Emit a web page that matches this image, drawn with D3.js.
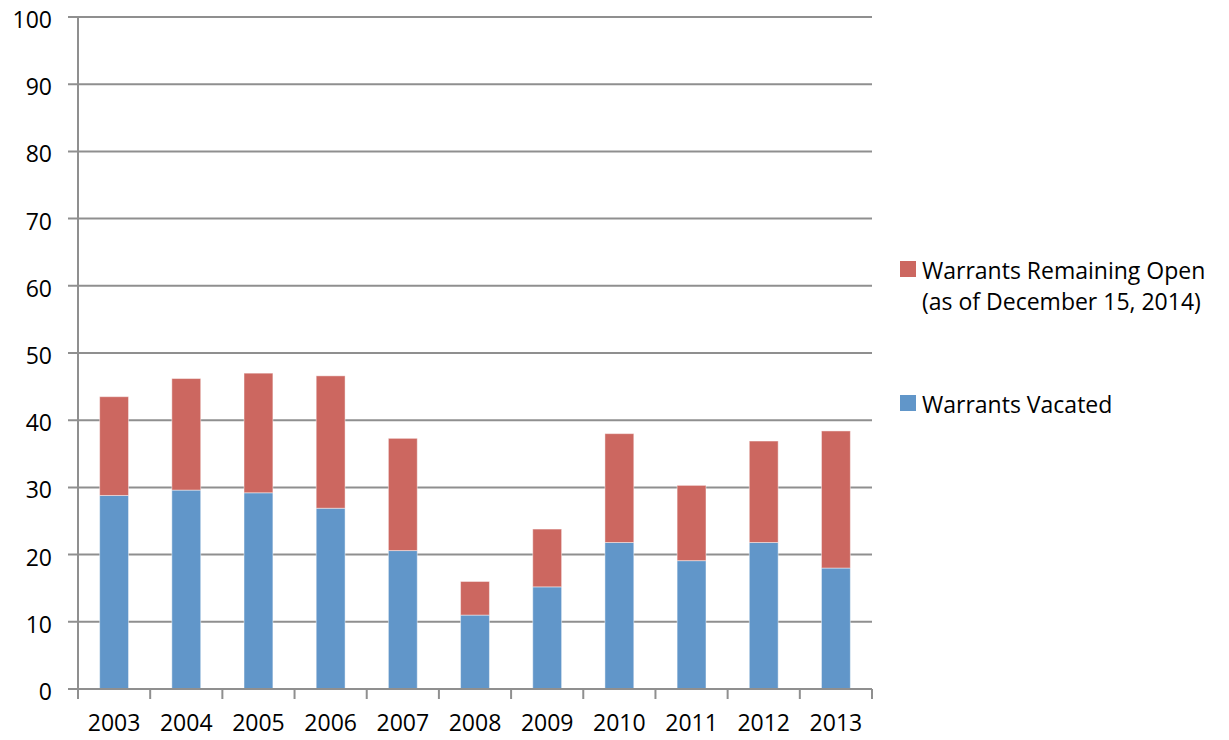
<!DOCTYPE html>
<html>
<head>
<meta charset="utf-8">
<script src="https://cdn.jsdelivr.net/npm/d3@7/dist/d3.min.js"></script>
<style>
  html, body { margin: 0; padding: 0; background: #ffffff; }
  svg { display: block; }
  text { font-family: "Open Sans", Lato, sans-serif; fill: #000; }
</style>
</head>
<body>
<svg id="chart" width="1229" height="740"></svg>
<script>
// Warrants issued per year, split into vacated and still open
const years = ["2003", "2004", "2005", "2006", "2007", "2008", "2009", "2010", "2011", "2012", "2013"];
const vacated = [28.8, 29.6, 29.2, 26.9, 20.6, 11.0, 15.2, 21.8, 19.1, 21.8, 18.0];
const remainingOpen = [14.7, 16.6, 17.8, 19.7, 16.7, 5.0, 8.6, 16.2, 11.2, 15.1, 20.4];
const yTicks = [0, 10, 20, 30, 40, 50, 60, 70, 80, 90, 100];
const seriesNames = ["Warrants Vacated", "Warrants Remaining Open"];

const colors = { vacated: "#6196c9", open: "#cc6760" };

const svg = d3.select("#chart");
const margin = { left: 78, right: 357, top: 17, bottom: 51 };
const width = 1229, height = 740;

const x = d3.scaleBand()
  .domain(years)
  .range([margin.left, width - margin.right])
  .paddingInner(0.6)
  .paddingOuter(0.3);

const y = d3.scaleLinear()
  .domain([0, 100])
  .range([height - margin.bottom, margin.top]);

const rows = years.map((yr, i) => ({ year: yr, vacated: vacated[i], open: remainingOpen[i] }));
const stack = d3.stack().keys(["vacated", "open"]);
const layers = stack(rows);

// gridlines with short outward ticks on the left
svg.append("g")
  .selectAll("line")
  .data(yTicks)
  .join("line")
  .attr("x1", margin.left - 10)
  .attr("x2", width - margin.right)
  .attr("y1", d => y(d))
  .attr("y2", d => y(d))
  .attr("stroke", "#8f8f8f")
  .attr("stroke-width", 2);

// y tick labels
svg.append("g")
  .selectAll("text")
  .data(yTicks)
  .join("text")
  .attr("x", margin.left - 26)
  .attr("y", d => y(d) + 3)
  .attr("dy", "0.35em")
  .attr("text-anchor", "end")
  .attr("font-size", 23)
  .text(d => d);

// stacked bars
svg.append("g")
  .selectAll("g")
  .data(layers)
  .join("g")
  .attr("fill", d => colors[d.key])
  .selectAll("rect")
  .data(d => d)
  .join("rect")
  .attr("x", d => x(d.data.year))
  .attr("width", x.bandwidth())
  .attr("y", d => y(d[1]))
  .attr("height", d => y(d[0]) - y(d[1]))
  .attr("stroke", "rgba(255,255,255,0.45)")
  .attr("stroke-width", 1);

// value axis line
svg.append("line")
  .attr("x1", margin.left).attr("x2", margin.left)
  .attr("y1", y(100)).attr("y2", y(0))
  .attr("stroke", "#8f8f8f").attr("stroke-width", 2);

// category axis line and boundary ticks
const bounds = d3.range(years.length + 1).map(i => margin.left + i * (width - margin.left - margin.right) / years.length);
svg.append("line")
  .attr("x1", margin.left - 10).attr("x2", width - margin.right)
  .attr("y1", y(0)).attr("y2", y(0))
  .attr("stroke", "#8f8f8f").attr("stroke-width", 2);
svg.append("g")
  .selectAll("line")
  .data(bounds)
  .join("line")
  .attr("x1", d => d).attr("x2", d => d)
  .attr("y1", y(0)).attr("y2", y(0) + 10)
  .attr("stroke", "#8f8f8f").attr("stroke-width", 2);

// x labels
svg.append("g")
  .selectAll("text")
  .data(years)
  .join("text")
  .attr("x", d => x(d) + x.bandwidth() / 2)
  .attr("y", 723)
  .attr("dy", "0.35em")
  .attr("text-anchor", "middle")
  .attr("font-size", 23)
  .text(d => d);

// legend
const legend = svg.append("g");
const legendItems = [
  { color: colors.open, lines: [seriesNames[1], "(as of December 15, 2014)"], y: 261 },
  { color: colors.vacated, lines: [seriesNames[0]], y: 395 }
];
legendItems.forEach(item => {
  legend.append("rect")
    .attr("x", 900).attr("y", item.y)
    .attr("width", 16).attr("height", 16)
    .attr("fill", item.color);
  item.lines.forEach((ln, j) => {
    legend.append("text")
      .attr("x", 922)
      .attr("y", item.y + 10 + j * 31)
      .attr("dy", "0.35em")
      .attr("font-size", 23)
      .text(ln);
  });
});
</script>
</body>
</html>
